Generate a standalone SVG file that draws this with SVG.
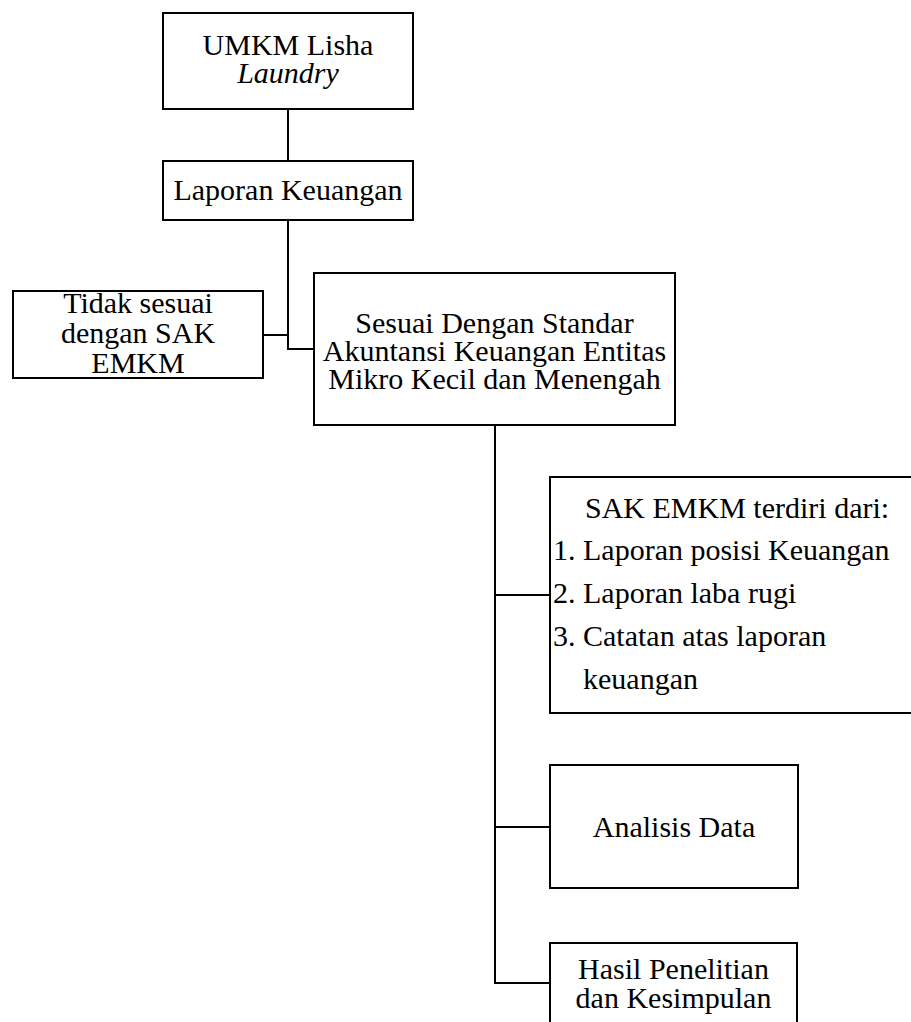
<svg xmlns="http://www.w3.org/2000/svg" width="911" height="1022" viewBox="0 0 911 1022">
<style>
rect{fill:#fff;stroke:#000;stroke-width:2}
.c line{stroke:#000;stroke-width:2;fill:none}
text{font-size:30px;fill:#000}
.m{text-anchor:middle}
</style>
<rect x="0" y="0" width="911" height="1022" style="stroke:none"/>
<g class="c" id="connectors">
<line x1="288" y1="109" x2="288" y2="161"/>
<line x1="288" y1="220" x2="288" y2="350"/>
<line x1="263" y1="335" x2="288" y2="335"/>
<line x1="287" y1="349" x2="314" y2="349"/>
<line x1="495" y1="425" x2="495" y2="984"/>
<line x1="494" y1="595" x2="550" y2="595"/>
<line x1="494" y1="827" x2="550" y2="827"/>
<line x1="494" y1="983" x2="550" y2="983"/>
</g>
<g font-family="Liberation Serif, Tinos, Noto Serif, DejaVu Serif, serif">
<g id="umkm">
<rect x="163" y="13" width="250" height="96"/>
<text class="m" x="288" y="55">UMKM Lisha</text>
<text class="m" x="288" y="83" font-style="italic">Laundry</text>
</g>
<g id="laporan">
<rect x="163" y="161" width="250" height="59"/>
<text class="m" x="288" y="200">Laporan Keuangan</text>
</g>
<g id="tidak">
<rect x="13" y="291" width="250" height="87"/>
<text class="m" x="138" y="313">Tidak sesuai</text>
<text class="m" x="138" y="343">dengan SAK</text>
<text class="m" x="138" y="373">EMKM</text>
</g>
<g id="sesuai">
<rect x="314" y="273" width="361" height="152"/>
<text class="m" x="494.5" y="333">Sesuai Dengan Standar</text>
<text class="m" x="494.5" y="361">Akuntansi Keuangan Entitas</text>
<text class="m" x="494.5" y="389">Mikro Kecil dan Menengah</text>
</g>
<g id="sak">
<rect x="550" y="477" width="382" height="236"/>
<text x="585" y="518">SAK EMKM terdiri dari:</text>
<text x="553" y="560">1. Laporan posisi Keuangan</text>
<text x="553" y="603">2. Laporan laba rugi</text>
<text x="553" y="646">3. Catatan atas laporan</text>
<text x="583" y="689">keuangan</text>
</g>
<g id="analisis">
<rect x="550" y="765" width="248" height="123"/>
<text class="m" x="674" y="837">Analisis Data</text>
</g>
<g id="hasil">
<rect x="550" y="943" width="247" height="100"/>
<text class="m" x="673.5" y="979">Hasil Penelitian</text>
<text class="m" x="673.5" y="1008">dan Kesimpulan</text>
</g>
</g>
</svg>
